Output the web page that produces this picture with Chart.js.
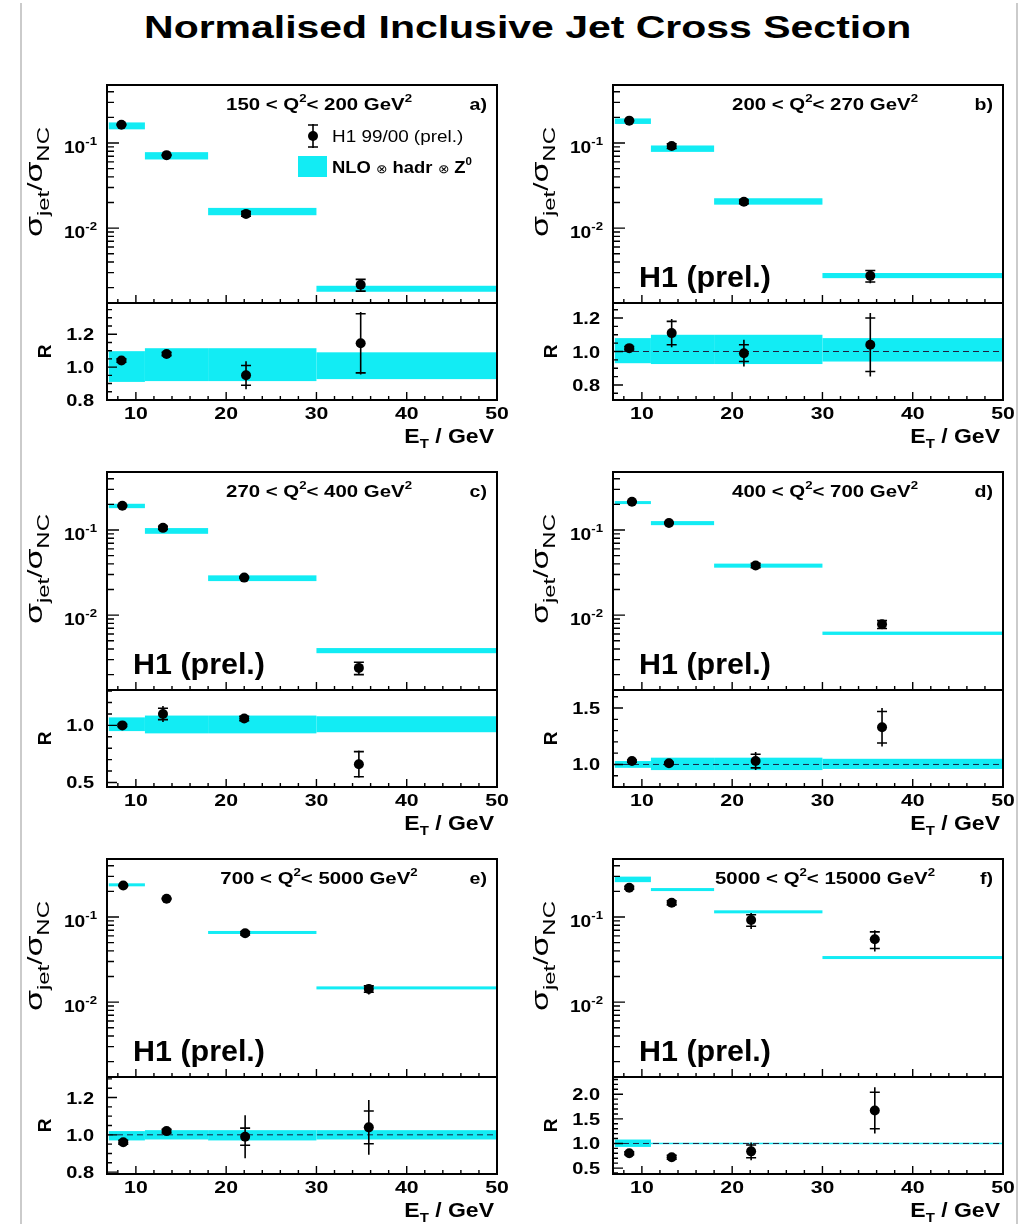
<!DOCTYPE html>
<html>
<head>
<meta charset="utf-8">
<script src="https://cdn.jsdelivr.net/npm/chart.js@4.4.1/dist/chart.umd.min.js"></script>
<style>
    body { margin: 0; width: 1029px; height: 1224px; position: relative; overflow: hidden; background: #fff; }
    canvas { position: absolute; }
    .rule { position: absolute; top: 3px; bottom: 0; width: 2px; background: #cbcbcb; }
    #title
    {
        position: absolute; left: 0; width: 1055px; top: 11px; text-align: center;
        font: bold 32px "Liberation Sans", Arial, sans-serif; line-height: 32px;
        transform: scaleX(1.28); transform-origin: 527px 0;
    }
</style>
</head>
<body>
<div class="rule" style="left:20px"></div>
<div class="rule" style="left:1016px"></div>
<div id="title">Normalised Inclusive Jet Cross Section</div>
<script>
// E_T bins (GeV) and axis ranges shared by the six Q2 ranges
const etBinEdges = [7, 11, 18, 30, 50];
const etAxisRange = [6.8, 50];
const xTickLabels = [10, 20, 30, 40, 50];
const xsAxisRange = [0.00132, 0.48];
const xsTickLabels = [0.01, 0.1];

const panelTags = ['a)', 'b)', 'c)', 'd)', 'e)', 'f)'];
const q2Low = [150, 200, 270, 400, 700, 5000];
const q2High = [200, 270, 400, 700, 5000, 15000];

// mean E_T of each measured point
const etMean = [
    [8.4, 13.4, 22.2, 34.9],
    [8.6, 13.3, 21.3, 35.3],
    [8.5, 13.0, 22.0, 34.7],
    [8.9, 13.0, 22.6, 36.6],
    [8.6, 13.4, 22.1, 35.8],
    [8.6, 13.3, 22.1, 35.8]
];
// sigma_jet / sigma_NC, H1 99/00 (prel.)
const xsData = [
    [0.164, 0.072, 0.0147, 0.00216],
    [0.183, 0.092, 0.0204, 0.00275],
    [0.193, 0.106, 0.0276, 0.0024],
    [0.215, 0.121, 0.0383, 0.0078],
    [0.234, 0.164, 0.0645, 0.0143],
    [0.221, 0.147, 0.092, 0.0547]
];
// NLO x hadr x Z0 per bin (null: no band drawn)
const xsNlo = [
    [0.159, 0.070, 0.0155, 0.00193],
    [0.180, 0.085, 0.0204, 0.00275],
    [0.190, 0.097, 0.027, 0.0038],
    [0.210, 0.120, 0.038, 0.0061],
    [0.240, null, 0.066, 0.0147],
    [0.276, 0.210, 0.115, 0.0334]
];
// R = data / theory with inner (stat) and full errors
const ratioData = [
    [1.04, 1.08, 0.95, 1.145],
    [1.02, 1.11, 0.99, 1.04],
    [1.00, 1.10, 1.06, 0.66],
    [1.03, 1.01, 1.03, 1.33],
    [0.96, 1.02, 0.99, 1.04],
    [0.80, 0.72, 0.84, 1.67]
];
const ratioStat = [
    [0.01, 0.01, 0.06, 0.18],
    [0.01, 0.07, 0.05, 0.16],
    [0.01, 0.05, 0.02, 0.11],
    [0.01, 0.01, 0.06, 0.14],
    [0.01, 0.01, 0.046, 0.088],
    [0.03, 0.04, 0.13, 0.37]
];
const ratioTotal = [
    [0.02, 0.02, 0.085, 0.19],
    [0.02, 0.085, 0.08, 0.19],
    [0.02, 0.07, 0.03, 0.12],
    [0.02, 0.02, 0.08, 0.17],
    [0.02, 0.02, 0.115, 0.147],
    [0.05, 0.06, 0.18, 0.47]
];
// relative theory uncertainty band per bin
const bandLow = [
    [0.91, 0.915, 0.915, 0.927],
    [0.93, 0.925, 0.925, 0.94],
    [0.95, 0.93, 0.93, 0.94],
    [0.97, 0.95, 0.95, 0.96],
    [0.97, 0.975, 0.97, 0.975],
    [0.93, 0.985, 0.985, 0.985]
];
const bandHigh = [
    [1.097, 1.115, 1.115, 1.09],
    [1.08, 1.10, 1.10, 1.08],
    [1.07, 1.086, 1.086, 1.08],
    [1.03, 1.06, 1.06, 1.05],
    [1.02, 1.025, 1.025, 1.025],
    [1.08, 1.015, 1.015, 1.015]
];
// ratio axes
const ratioMin = [0.8, 0.71, 0.46, 0.8, 0.79, 0.38];
const ratioMax = [1.39, 1.29, 1.31, 1.66, 1.31, 2.35];
const ratioTickLabels = [
    [0.8, 1.0, 1.2],
    [0.8, 1.0, 1.2],
    [0.5, 1.0],
    [1.0, 1.5],
    [0.8, 1.0, 1.2],
    [0.5, 1.0, 1.5, 2.0]
];
const ratioMinorStep = [0.05, 0.05, 0.1, 0.1, 0.05, 0.1];
const showUnitLine = [false, true, false, true, true, true];

// page geometry
const frameLeft = [107, 613];
const frameTop = [85, 472, 859];
const frameW = 390, upperH = 218, lowerH = 97;

const FONT = '"Liberation Sans", Arial, Helvetica, sans-serif';
const CYAN = 'rgb(18, 236, 244)';

// runs: [text, size, dy, weight]
const drawRuns = (ctx, runs, x, y, o) =>
{
    const widths = runs.map(r =>
    {
        ctx.font = `${r[3] || o.weight || 'normal'} ${r[1]}px ${FONT}`;
        return ctx.measureText(r[0]).width;
    });
    const total = widths.reduce((s, w) => s + w, 0);
    const sx = o.fit ? o.fit / total : (o.sx || 1);
    const w = total * sx;
    const start = o.align == 'center' ? -w / 2 : (o.align == 'right' ? -w : 0);

    ctx.save();
    ctx.translate(x, y);
    if(o.rotate) ctx.rotate(o.rotate);
    ctx.translate(start, 0);
    ctx.scale(sx, 1);
    ctx.fillStyle = '#000';
    ctx.textAlign = 'left';
    ctx.textBaseline = 'alphabetic';
    let cx = 0;
    runs.forEach((r, i) =>
    {
        ctx.font = `${r[3] || o.weight || 'normal'} ${r[1]}px ${FONT}`;
        ctx.fillText(r[0], cx, r[2] || 0);
        cx += widths[i];
    });
    ctx.restore();
};

const clipArea = (ctx, a) =>
{
    ctx.beginPath();
    ctx.rect(a.left, a.top, a.right - a.left, a.bottom - a.top);
    ctx.clip();
};

const errorBar = (ctx, px, yTop, yBottom, sTop, sBottom) =>
{
    ctx.strokeStyle = '#000';
    ctx.lineWidth = 1.6;
    ctx.beginPath();
    ctx.moveTo(px, yTop); ctx.lineTo(px, yBottom);
    ctx.moveTo(px - 5, sTop); ctx.lineTo(px + 5, sTop);
    ctx.moveTo(px - 5, sBottom); ctx.lineTo(px + 5, sBottom);
    ctx.stroke();
};

const frameAndXTicks = (ctx, a, x) =>
{
    ctx.strokeStyle = '#000';
    ctx.lineWidth = 1.4;
    ctx.beginPath();
    for(let v = 8; v <= etAxisRange[1]; v += 2)
    {
        const px = x.getPixelForValue(v);
        ctx.moveTo(px, a.bottom);
        ctx.lineTo(px, a.bottom - (v % 10 == 0 ? 8 : 4));
    }
    ctx.stroke();
    ctx.lineWidth = 2;
    ctx.strokeRect(a.left, a.top, a.right - a.left, a.bottom - a.top);
};

// upper pad: cross section on log scale
const upperDecor = p => (
{
    id: 'upperDecor'
    ,beforeDatasetsDraw(chart)
    {
        const {ctx, chartArea: a, scales: {x, y}} = chart;
        ctx.save();
        clipArea(ctx, a);
        ctx.fillStyle = CYAN;
        xsNlo[p].forEach((v, i) =>
        {
            if(v === null) return;
            const x1 = x.getPixelForValue(etBinEdges[i]);
            const x2 = x.getPixelForValue(etBinEdges[i + 1]);
            let yt = y.getPixelForValue(v * bandHigh[p][i]);
            let yb = y.getPixelForValue(v * bandLow[p][i]);
            if(yb - yt < 3)
            {
                const m = (yt + yb) / 2;
                yt = m - 1.5; yb = m + 1.5;
            }
            ctx.fillRect(x1, yt, x2 - x1, yb - yt);
        });
        etMean[p].forEach((et, i) =>
        {
            const v = xsData[p][i];
            const rt = ratioTotal[p][i] / ratioData[p][i];
            const rs = ratioStat[p][i] / ratioData[p][i];
            errorBar(ctx, x.getPixelForValue(et),
                y.getPixelForValue(v * (1 + rt)), y.getPixelForValue(v * (1 - rt)),
                y.getPixelForValue(v * (1 + rs)), y.getPixelForValue(v * (1 - rs)));
        });
        ctx.restore();
    }
    ,afterDraw(chart)
    {
        const {ctx, chartArea: a, scales: {x, y}} = chart;
        ctx.save();
        frameAndXTicks(ctx, a, x);

        // log ticks on the left edge
        ctx.lineWidth = 1.4;
        ctx.beginPath();
        for(let d = -4; d <= 0; d++)
        {
            for(let k = 1; k <= 9; k++)
            {
                const v = k * Math.pow(10, d);
                if(v < xsAxisRange[0] || v > xsAxisRange[1]) continue;
                const py = y.getPixelForValue(v);
                ctx.moveTo(a.left, py);
                ctx.lineTo(a.left + (k == 1 ? 12 : 7), py);
            }
        }
        ctx.stroke();
        xsTickLabels.forEach(v =>
        {
            const py = y.getPixelForValue(v);
            drawRuns(ctx, [['10', 16], [String(Math.round(Math.log10(v))), 11, -8]],
                a.left - 10, py + 10, {align: 'right', sx: 1.2, weight: 'bold'});
        });

        // axis title
        drawRuns(ctx, [['σ', 24], ['jet', 17, 7], ['/', 21], ['σ', 24], ['NC', 17, 7]],
            a.left - 65, a.top + 97, {align: 'center', rotate: -Math.PI / 2, fit: 110});

        // Q2 range and panel tag
        drawRuns(ctx, [[q2Low[p] + ' < Q', 17], ['2', 11, -8], ['< ' + q2High[p] + ' GeV', 17], ['2', 11, -8]],
            a.left + 212, a.top + 25, {align: 'center', sx: 1.2, weight: 'bold'});
        drawRuns(ctx, [[panelTags[p], 17]], a.right - 10, a.top + 25, {align: 'right', sx: 1.15, weight: 'bold'});

        if(p == 0)
        {
            // legend
            const mx = a.left + 206, my = a.top + 51;
            errorBar(ctx, mx, my - 12, my + 12, my - 11, my + 11);
            ctx.fillStyle = '#000';
            ctx.beginPath();
            ctx.arc(mx, my, 5, 0, Math.PI * 2);
            ctx.fill();
            drawRuns(ctx, [['H1 99/00 (prel.)', 16]], a.left + 225, a.top + 57, {sx: 1.18});
            ctx.fillStyle = CYAN;
            ctx.fillRect(a.left + 191, a.top + 71, 29, 21);
            drawRuns(ctx, [['NLO ', 16, 0, 'bold'], ['⊗', 12], [' hadr ', 16, 0, 'bold'], ['⊗', 12], [' Z', 16, 0, 'bold'], ['0', 10, -8, 'bold']],
                a.left + 225, a.top + 88, {sx: 1.15});
        }
        else
        {
            drawRuns(ctx, [['H1 (prel.)', 29]], a.left + 26, a.bottom - 16, {sx: 1.05, weight: 'bold'});
        }
        ctx.restore();
    }
});

// lower pad: data / theory
const lowerDecor = p => (
{
    id: 'lowerDecor'
    ,beforeDatasetsDraw(chart)
    {
        const {ctx, chartArea: a, scales: {x, y}} = chart;
        ctx.save();
        clipArea(ctx, a);
        ctx.fillStyle = CYAN;
        bandLow[p].forEach((lo, i) =>
        {
            const x1 = x.getPixelForValue(etBinEdges[i]);
            const x2 = x.getPixelForValue(etBinEdges[i + 1]);
            const yt = y.getPixelForValue(bandHigh[p][i]);
            const yb = y.getPixelForValue(lo);
            ctx.fillRect(x1, yt, x2 - x1, yb - yt);
        });
        if(showUnitLine[p])
        {
            ctx.strokeStyle = '#1c2040';
            ctx.lineWidth = 1;
            ctx.setLineDash([6, 4]);
            ctx.beginPath();
            ctx.moveTo(a.left, y.getPixelForValue(1));
            ctx.lineTo(a.right, y.getPixelForValue(1));
            ctx.stroke();
            ctx.setLineDash([]);
        }
        etMean[p].forEach((et, i) =>
        {
            const v = ratioData[p][i], t = ratioTotal[p][i], s = ratioStat[p][i];
            errorBar(ctx, x.getPixelForValue(et),
                y.getPixelForValue(v + t), y.getPixelForValue(v - t),
                y.getPixelForValue(v + s), y.getPixelForValue(v - s));
        });
        ctx.restore();
    }
    ,afterDraw(chart)
    {
        const {ctx, chartArea: a, scales: {x, y}} = chart;
        ctx.save();
        frameAndXTicks(ctx, a, x);

        // ratio ticks: long ones every 4th (0.05 step) or 5th (0.1 step) mark
        ctx.lineWidth = 1.4;
        ctx.beginPath();
        const step = ratioMinorStep[p];
        const every = step < 0.08 ? 4 : 5;
        for(let n = Math.ceil(ratioMin[p] / step - 1e-6); n * step <= ratioMax[p] + 1e-6; n++)
        {
            const py = y.getPixelForValue(n * step);
            ctx.moveTo(a.left, py);
            ctx.lineTo(a.left + (n % every == 0 ? 10 : 5), py);
        }
        ctx.stroke();
        ratioTickLabels[p].forEach(v =>
        {
            drawRuns(ctx, [[v.toFixed(1), 16]], a.left - 13, y.getPixelForValue(v) + 6,
                {align: 'right', sx: 1.25, weight: 'bold'});
        });
        xTickLabels.forEach(v =>
        {
            drawRuns(ctx, [[String(v), 17]], x.getPixelForValue(v), a.bottom + 19,
                {align: 'center', sx: 1.25, weight: 'bold'});
        });
        drawRuns(ctx, [['E', 20], ['T', 13, 5], [' / GeV', 20]], a.right - 3, a.bottom + 43,
            {align: 'right', sx: 1.15, weight: 'bold'});
        drawRuns(ctx, [['R', 19]], a.left - 56, (a.top + a.bottom) / 2,
            {align: 'center', rotate: -Math.PI / 2, weight: 'bold'});
        ctx.restore();
    }
});

const makeCanvas = (left, top, w, h) =>
{
    const c = document.createElement('canvas');
    c.width = w; c.height = h;
    c.style.left = left + 'px'; c.style.top = top + 'px';
    c.style.width = w + 'px'; c.style.height = h + 'px';
    document.body.appendChild(c);
    return c;
};

const chartOptions = (padding, yScale) => (
{
    responsive: false
    ,animation: false
    ,events: []
    ,devicePixelRatio: 1
    ,layout: {padding}
    ,plugins: {legend: {display: false}, tooltip: {enabled: false}}
    ,scales:
    {
        x: {type: 'linear', min: etAxisRange[0], max: etAxisRange[1], display: false}
        ,y: Object.assign({display: false}, yScale)
    }
});

const pointSet = values => (
{
    data: values
    ,pointRadius: 5
    ,pointHoverRadius: 5
    ,pointBackgroundColor: '#000'
    ,pointBorderWidth: 0
    ,showLine: false
});

for(let p = 0; p < 6; p++)
{
    const L = frameLeft[p % 2];
    const T = frameTop[Math.floor(p / 2)];
    const U = T + upperH;

    new Chart(makeCanvas(L - 100, T - 30, 520, upperH + 40),
    {
        type: 'scatter'
        ,data: {datasets: [pointSet(etMean[p].map((x, i) => ({x, y: xsData[p][i]})))]}
        ,options: chartOptions({left: 100, top: 30, right: 30, bottom: 10},
            {type: 'logarithmic', min: xsAxisRange[0], max: xsAxisRange[1]})
        ,plugins: [upperDecor(p)]
    });

    new Chart(makeCanvas(L - 100, U - 10, 520, lowerH + 65),
    {
        type: 'scatter'
        ,data: {datasets: [pointSet(etMean[p].map((x, i) => ({x, y: ratioData[p][i]})))]}
        ,options: chartOptions({left: 100, top: 10, right: 30, bottom: 55},
            {type: 'linear', min: ratioMin[p], max: ratioMax[p]})
        ,plugins: [lowerDecor(p)]
    });
}
</script>
</body>
</html>
